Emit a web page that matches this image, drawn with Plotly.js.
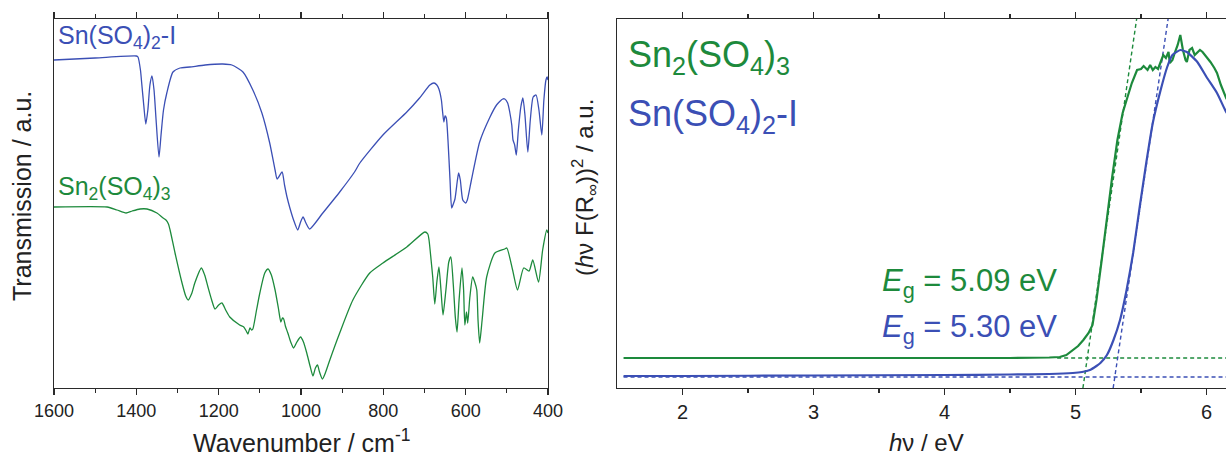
<!DOCTYPE html>
<html>
<head>
<meta charset="utf-8">
<script src="https://cdn.plot.ly/plotly-3.0.1.min.js"></script>
<style>
html,body{margin:0;padding:0;background:#fff;overflow:hidden;}
#chart{width:1226px;height:458px;}
</style>
</head>
<body>
<div id="chart"></div>
<script>
// ---------------- IR spectra (left panel) ----------------
const irWnSnSO4I = [1600,1500,1400,1396,1390,1387,1382,1377,1372,1367,1362,1357,1352,1345,1340,1334,1326,1311,1294,1270,1233,1190,1168,1141,1117,1095,1076,1063,1058,1046,1040,1034,1027,1018,1008,1001,995,988,979,947,906,870,857,801,743,712,687,677,670,665,659,656,653,650,647,643,638,634,630,626,620,617,613,607,600,596,586,566,542,525,510,505,498,493,488,485,481,477,472,466,461,456,449,443,436,429,422,415,410,405,402,400];
const irTSnSO4I  = [328,330,332,331,318,305,283,264,278,303,312,298,268,231,253,278,295,316,320,321,323,324,323,316,298,275,245,218,209,216,203,191,180,168,158,166,171,165,159,175,196,216,225,253,276,290,303,305,303,299,288,276,266,272,270,248,208,180,184,189,208,215,208,188,185,188,208,246,270,283,289,289,285,276,263,248,243,233,258,281,290,273,236,268,291,293,278,253,288,308,311,308];

const irWnSn2SO4 = [1600,1471,1447,1425,1410,1391,1374,1350,1335,1328,1322,1318,1306,1289,1280,1274,1265,1258,1242,1234,1226,1217,1209,1200,1192,1183,1173,1149,1139,1133,1129,1124,1120,1117,1108,1100,1088,1080,1072,1063,1055,1049,1045,1042,1038,1032,1025,1018,1010,1001,994,986,978,971,965,960,955,948,940,930,906,874,833,801,743,699,692,689,684,680,675,670,665,660,655,648,641,636,630,625,621,616,609,605,602,598,595,590,583,578,573,570,566,560,549,529,505,500,486,474,459,446,437,423,413,403,400];
const irTSn2SO4  = [181,181,178,175,177,179,179,175,170,168,164,158,135,105,92,88,95,105,120,113,101,88,79,83,85,78,71,63,61,57,54,60,58,59,78,95,115,119,113,98,80,66,70,69,62,55,46,40,46,51,46,35,22,12,20,23,16,9,16,28,55,88,115,125,141,156,154,148,128,111,84,106,121,98,73,98,126,131,103,70,56,88,120,98,63,76,65,90,111,106,98,68,45,68,111,135,139,140,118,98,120,117,128,106,138,158,155];

// ---------------- UV-Vis Tauc plots (right panel) ----------------
const eVSn2SO4 = [1.55,2.0,3.0,4.0,4.5,4.8,4.88,4.93,4.98,5.02,5.06,5.10,5.13,5.16,5.20,5.24,5.28,5.32,5.35,5.36,5.39,5.43,5.47,5.50,5.52,5.55,5.57,5.59,5.61,5.63,5.65,5.67,5.69,5.71,5.72,5.74,5.76,5.78,5.80,5.82,5.84,5.85,5.87,5.89,5.91,5.93,5.95,5.97,5.99,6.01,6.03,6.06,6.08,6.11,6.13,6.15,6.2];
const taucSn2SO4 = [30,30,29.5,30,30,30.5,31,33,38,42,48,55,63,88,128,171,211,248,271,275,288,305,318,319,322,318,323,318,321,319,326,333,330,336,325,328,336,343,353,338,328,326,338,340,333,336,338,336,333,330,326,320,315,303,296,290,278];

const eVSnSO4I = [1.55,2.0,3.0,4.0,4.5,4.8,4.98,5.05,5.11,5.16,5.19,5.24,5.29,5.34,5.39,5.44,5.49,5.54,5.59,5.65,5.70,5.74,5.80,5.85,5.93,6.00,6.08,6.15,6.2];
const taucSnSO4I = [12,12,12.5,13,13.5,14,15,16,18,22,25,33,48,68,98,135,181,225,265,298,321,333,338,336,326,311,295,276,266];

// band-gap fits: [Sn2(SO4)3, Sn(SO4)2-I]
const bandGaps     = [5.09, 5.30];
const baseLevels   = [30, 11];
const fitSlopes    = [900, 880];
const baseStart    = [4.86, 1.55];

const GREEN = '#1d8a3c';
const BLUE  = '#3b4fb5';
const AX = '#2a2a2a';
const FONT = 'Liberation Sans, Arial, Helvetica, sans-serif';

const W = 1226, H = 458;
const px = v => v / W;
const py = v => 1 - v / H;

const yRangeL = [0, 369];
const yRangeR = [0, 369];
const xRangeR = [1.5, 1.5 + (W - 617) / 131];

function fitLine(i) {
  const x0 = bandGaps[i] + (yRangeR[0] - baseLevels[i]) / fitSlopes[i];
  const x1 = bandGaps[i] + (yRangeR[1] - baseLevels[i]) / fitSlopes[i];
  return {x: [x0, x1], y: [yRangeR[0], yRangeR[1]]};
}

const traces = [
  {x: irWnSnSO4I, y: irTSnSO4I, type: 'scatter', mode: 'lines', line: {color: BLUE, width: 1.3, shape: 'spline', smoothing: 0.6}, xaxis: 'x', yaxis: 'y', hoverinfo: 'skip'},
  {x: irWnSn2SO4, y: irTSn2SO4, type: 'scatter', mode: 'lines', line: {color: GREEN, width: 1.3, shape: 'spline', smoothing: 0.6}, xaxis: 'x', yaxis: 'y', hoverinfo: 'skip'},
  // dashed fits
  {x: [baseStart[0], xRangeR[1] + 0.2], y: [baseLevels[0], baseLevels[0]], type: 'scatter', mode: 'lines', line: {color: GREEN, width: 1.4, dash: '4px,3px'}, xaxis: 'x2', yaxis: 'y2', hoverinfo: 'skip'},
  {x: [baseStart[1], xRangeR[1] + 0.2], y: [baseLevels[1], baseLevels[1]], type: 'scatter', mode: 'lines', line: {color: BLUE, width: 1.4, dash: '4px,3px'}, xaxis: 'x2', yaxis: 'y2', hoverinfo: 'skip'},
  Object.assign(fitLine(0), {type: 'scatter', mode: 'lines', line: {color: GREEN, width: 1.4, dash: '4px,3px'}, xaxis: 'x2', yaxis: 'y2', hoverinfo: 'skip'}),
  Object.assign(fitLine(1), {type: 'scatter', mode: 'lines', line: {color: BLUE, width: 1.4, dash: '4px,3px'}, xaxis: 'x2', yaxis: 'y2', hoverinfo: 'skip'}),
  {x: eVSn2SO4, y: taucSn2SO4, type: 'scatter', mode: 'lines', line: {color: GREEN, width: 2.2}, xaxis: 'x2', yaxis: 'y2', hoverinfo: 'skip'},
  {x: eVSnSO4I, y: taucSnSO4I, type: 'scatter', mode: 'lines', line: {color: BLUE, width: 2.2, shape: 'spline', smoothing: 0.5}, xaxis: 'x2', yaxis: 'y2', hoverinfo: 'skip'}
];

const yDom = [1 - 388 / H, 1 - 19 / H];

const layout = {
  width: W, height: H,
  margin: {l: 0, r: 0, t: 0, b: 0},
  paper_bgcolor: '#fff', plot_bgcolor: '#fff',
  showlegend: false,
  font: {family: FONT, color: '#222'},
  xaxis: {
    domain: [px(54), px(548)], range: [1600, 400], autorange: false,
    showgrid: false, zeroline: false, showline: true, linecolor: AX, linewidth: 1.4, mirror: 'allticks',
    ticks: 'outside', ticklen: 6, tickwidth: 1.3, tickcolor: AX,
    tickvals: [1600, 1400, 1200, 1000, 800, 600, 400],
    minor: {tickvals: [1500, 1300, 1100, 900, 700, 500], ticks: 'outside', ticklen: 4, tickwidth: 1.1, tickcolor: AX},
    tickfont: {size: 18, family: FONT, color: '#222'}
  },
  yaxis: {
    domain: yDom, range: yRangeL, autorange: false,
    showgrid: false, zeroline: false, showline: true, linecolor: AX, linewidth: 1.4, mirror: true,
    ticks: '', showticklabels: false
  },
  xaxis2: {
    domain: [px(617), 1], range: xRangeR, autorange: false, anchor: 'y2',
    showgrid: false, zeroline: false, showline: true, linecolor: AX, linewidth: 1.4, mirror: 'allticks',
    ticks: 'outside', ticklen: 6, tickwidth: 1.3, tickcolor: AX,
    tickvals: [2, 3, 4, 5, 6],
    minor: {tickvals: [2.5, 3.5, 4.5, 5.5], ticks: 'outside', ticklen: 4, tickwidth: 1.1, tickcolor: AX},
    tickfont: {size: 20, family: FONT, color: '#222'}
  },
  yaxis2: {
    domain: yDom, range: yRangeR, autorange: false, anchor: 'x2',
    showgrid: false, zeroline: false, showline: true, linecolor: AX, linewidth: 1.4, mirror: false,
    ticks: '', showticklabels: false
  },
  annotations: [
    {text: 'Wavenumber / cm<sup>-1</sup>', x: px(301), y: py(441), xref: 'paper', yref: 'paper', xanchor: 'center', yanchor: 'middle', showarrow: false, font: {size: 25, family: FONT, color: '#222'}},
    {text: 'Transmission / a.u.', x: px(22), y: py(196), xref: 'paper', yref: 'paper', xanchor: 'center', yanchor: 'middle', textangle: -90, showarrow: false, font: {size: 25, family: FONT, color: '#222'}},
    {text: '<i>h</i>ν / eV', x: px(926), y: py(442), xref: 'paper', yref: 'paper', xanchor: 'center', yanchor: 'middle', showarrow: false, font: {size: 24, family: FONT, color: '#222'}},
    {text: '(<i>h</i>ν F(R<sub>∞</sub>))<sup>2</sup> / a.u.', x: px(585), y: py(188), xref: 'paper', yref: 'paper', xanchor: 'center', yanchor: 'middle', textangle: -90, showarrow: false, font: {size: 24, family: FONT, color: '#222'}},
    {text: 'Sn(SO<sub>4</sub>)<sub>2</sub>-I', x: px(56), y: py(37), xref: 'paper', yref: 'paper', xanchor: 'left', yanchor: 'middle', showarrow: false, font: {size: 25, family: FONT, color: BLUE}},
    {text: 'Sn<sub>2</sub>(SO<sub>4</sub>)<sub>3</sub>', x: px(56), y: py(188), xref: 'paper', yref: 'paper', xanchor: 'left', yanchor: 'middle', showarrow: false, font: {size: 25, family: FONT, color: GREEN}},
    {text: 'Sn<sub>2</sub>(SO<sub>4</sub>)<sub>3</sub>', x: px(626), y: py(57), xref: 'paper', yref: 'paper', xanchor: 'left', yanchor: 'middle', showarrow: false, font: {size: 36, family: FONT, color: GREEN}},
    {text: 'Sn(SO<sub>4</sub>)<sub>2</sub>-I', x: px(626), y: py(116), xref: 'paper', yref: 'paper', xanchor: 'left', yanchor: 'middle', showarrow: false, font: {size: 36, family: FONT, color: BLUE}},
    {text: '<i>E</i><sub>g</sub> = ' + bandGaps[0].toFixed(2) + ' eV', x: px(880), y: py(283), xref: 'paper', yref: 'paper', xanchor: 'left', yanchor: 'middle', showarrow: false, font: {size: 31, family: FONT, color: GREEN}},
    {text: '<i>E</i><sub>g</sub> = ' + bandGaps[1].toFixed(2) + ' eV', x: px(880), y: py(329), xref: 'paper', yref: 'paper', xanchor: 'left', yanchor: 'middle', showarrow: false, font: {size: 31, family: FONT, color: BLUE}}
  ]
};

Plotly.newPlot('chart', traces, layout, {staticPlot: true, displayModeBar: false});
</script>
</body>
</html>
